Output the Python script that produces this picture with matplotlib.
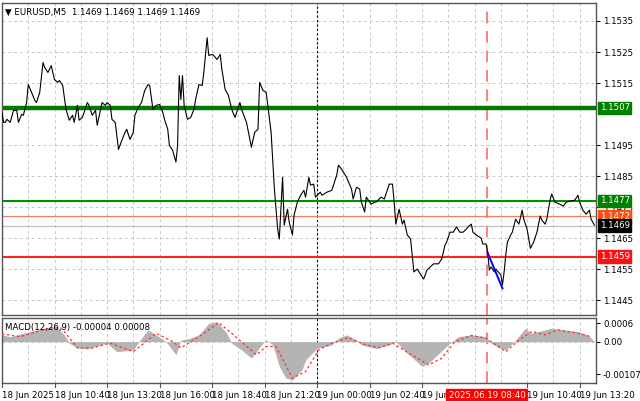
import matplotlib
matplotlib.use("Agg")
import matplotlib.pyplot as plt
import matplotlib.transforms as mtransforms
import numpy as np

# ---- data ----
# (bar index, price in pips above 1.1400)
price_points = [
    (0,105.5),(1,102.3),(2,102.3),(3,103.3),(5,102.3),(7,106.2),(9,106.2),(10,102.3),(12,104.9),(13,104.6),
    (15,108.7),(16,114.5),(18,112.0),(20,109.4),(21,108.7),(23,112.0),(25,121.6),(26,120.0),(28,118.4),(30,120.6),
    (32,116.1),(34,115.2),(35,115.8),(37,114.2),(39,106.5),(41,103.0),(43,104.6),(44,102.3),(46,107.8),(47,103.0),
    (49,103.9),(52,108.7),(53,107.8),(55,104.6),(57,106.2),(58,101.4),(61,108.7),(63,107.8),(64,108.7),(66,107.8),
    (67,103.3),(69,102.3),(71,93.6),(73,96.5),(75,99.1),(76,100.1),(78,96.8),(80,99.1),(81,104.6),(83,107.1),
    (85,108.7),(87,112.6),(89,114.5),(90,114.2),(92,106.5),(94,107.8),(96,108.1),(98,105.5),(99,103.3),(101,100.1),
    (102,94.9),(104,93.3),(106,89.5),(107,94.9),(108,117.4),(109,109.7),(110,117.4),(111,107.8),(113,103.3),(115,103.9),
    (117,106.5),(118,109.7),(120,114.5),(122,114.2),(123,118.4),(125,129.6),(126,123.9),(128,124.2),(129,123.9),(131,122.6),
    (133,124.2),(134,119.4),(136,112.9),(138,111.0),(140,106.5),(142,103.9),(145,108.7),(146,106.5),(149,102.3),(152,94.3),
    (154,99.1),(156,100.1),(157,115.2),(159,112.6),(161,112.0),(162,107.8),(164,99.1),(166,80.8),(168,67.9),(169,64.7),
    (171,84.6),(172,69.2),(174,74.3),(175,70.2),(177,66.0),(178,72.4),(180,76.6),(182,78.8),(184,80.4),(185,78.2),
    (187,84.6),(188,82.1),(190,82.4),(191,78.2),(194,79.8),(195,78.8),(198,79.8),(201,80.4),(204,85.3),(205,88.5),
    (207,87.2),(210,84.6),(213,80.8),(214,77.6),(216,81.4),(218,80.8),(219,76.6),(221,73.4),(222,78.2),(225,75.9),
    (227,76.6),(228,76.6),(231,78.2),(233,77.6),(235,80.8),(236,82.4),(238,82.4),(239,76.6),(240,69.5),(242,74.3),
    (244,69.5),(245,70.8),(247,66.0),(249,64.7),(250,59.5),(251,54.1),(253,55.0),(255,53.4),(257,51.8),(259,54.7),
    (261,55.7),(263,56.7),(266,56.7),(268,58.3),(270,62.8),(271,63.7),(273,66.9),(275,66.9),(277,68.6),(279,66.9),
    (281,66.9),(283,67.9),(284,68.6),(286,69.5),(287,66.9),(289,66.0),(292,65.0),(293,63.1),(295,63.1),(296,60.5),
    (297,54.7),(298,55.7),(300,54.1),(301,55.0),(304,53.1),(305,49.9),(306,54.1),(307,59.5),(308,63.7),(310,66.0),
    (311,66.9),(313,71.1),(315,69.5),(317,74.0),(318,71.1),(320,67.9),(322,61.7),(324,63.7),(326,66.9),(328,72.1),
    (329,70.8),(331,69.5),(332,71.1),(334,77.2),(335,79.2),(337,76.6),(340,75.9),(342,75.3),(344,76.6),(346,76.9),
    (349,77.2),(351,78.8),(352,76.6),(354,74.0),(356,72.7),(358,74.0),(359,71.1),(361,69.2)]
price_base = 1.1400

hist_bars = [0,5,17,27,33,38,41,46,52,58,64,70,80,84,89,94,100,106,109,114,120,126,131,137,140,146,152,159,161,165,169,173,177,183,185,189,192,201,205,210,216,219,228,236,240,246,256,260,266,272,278,286,295,298,303,307,313,319,322,327,335,343,351,357,361]
hist_vals = [22,16,33,45,49,22,-5,-21,-24,-13,-5,-33,-27,5,38,22,0,-43,5,10,22,60,65,27,-5,-27,-54,-5,5,-10,-81,-119,-125,-90,-60,-38,-22,-11,11,22,5,-11,-22,-11,0,-33,-81,-70,-40,-10,16,22,16,-5,-20,-27,5,44,27,33,44,38,33,22,0]
sig_bars = [0,11,29,36,46,55,66,80,94,104,109,120,132,140,155,161,167,177,185,193,201,211,222,230,238,248,260,268,276,286,295,307,315,323,331,339,351,359]
sig_vals = [25,16,45,45,-21,-21,-5,-33,27,0,-21,16,62,27,-43,-16,-16,-119,-98,-27,-5,13,-11,-20,-5,-38,-76,-54,0,20,11,-33,5,33,22,38,27,16]

blue_bars = [296, 305]
blue_prices = [1.14602, 1.14488]

levels = [1.1507, 1.1477, 1.1472, 1.1469, 1.1459]
price_ticks = [1.1535, 1.1525, 1.1515, 1.1495, 1.1485, 1.1475, 1.1465, 1.1455, 1.1445]
time_ticks = [0, 32, 64, 96, 128, 160, 192, 224, 256, 320, 352]
time_labels = ["18 Jun 2025", "18 Jun 10:40", "18 Jun 13:20", "18 Jun 16:00", "18 Jun 18:40",
               "18 Jun 21:20", "19 Jun 00:00", "19 Jun 02:40", "19 Jun 05:20", "19 Jun 10:40", "19 Jun 13:20"]

plt.rcParams['font.family'] = ['DejaVu Sans']
FS = 6.2
fig = plt.figure(figsize=(6.4, 4.01), dpi=100)
W, H = 640, 401
ax = fig.add_axes([2/W, 1-315/H, 594/W, 312/H])
ax2 = fig.add_axes([2/W, 1-383/H, 594/W, 65/H])

pb = [p[0] for p in price_points]
prices = price_base + np.array([p[1] for p in price_points]) / 10000
xmax = 362
for a in (ax, ax2):
    a.set_xlim(0, xmax)
    for s in a.spines.values():
        s.set_color('#555555'); s.set_linewidth(1.0)
    for v in range(16, xmax, 16):
        a.axvline(v, color='#c8c8c8', ls=(0, (3, 3)), lw=0.7, zorder=0)
    a.axvline(192, color='black', ls=(0, (2, 2)), lw=0.8, zorder=1)
    a.axvline(295.5, color='#ff8080', ls=(0, (6, 4)), lw=1.4, zorder=1)
    a.tick_params(axis='x', bottom=False, labelbottom=False)
    a.yaxis.tick_right()
    a.tick_params(axis='y', labelsize=FS, length=3, pad=2, colors='black')

ax.set_ylim(1.14402, 1.15408)
ax.set_yticks(price_ticks)
ax.set_yticklabels([f"{t:.4f}" for t in price_ticks])
for t in price_ticks:
    ax.axhline(t, color='#c8c8c8', ls=(0, (3, 3)), lw=0.7, zorder=0)

ax.axhline(levels[0], color='#007a00', lw=3.2, zorder=2)
ax.axhline(levels[1], color='#009000', lw=1.5, zorder=2)
ax.axhline(levels[2], color='#f08060', lw=0.9, zorder=2)
ax.axhline(levels[3], color='#c0c0c0', lw=0.9, zorder=2)
ax.axhline(levels[4], color='#ff2020', lw=1.5, zorder=2)
ax.plot(pb, prices, color='black', lw=0.8, zorder=3)
ax.plot(blue_bars, blue_prices, color='#0000ff', lw=1.4, zorder=4)

box_cols = ['#008000', '#008000', '#ff5010', 'black', '#ff1010']
ytr = mtransforms.blended_transform_factory(ax.transAxes, ax.transData)
for lv, c in zip(levels, box_cols):
    ax.text(1.006, lv, f"{lv:.4f}", transform=ytr, fontsize=FS, color='white', va='center', ha='left',
            bbox=dict(boxstyle='square,pad=0.2', fc=c, ec=c), clip_on=False, zorder=6)

ax.text(0.005, 0.985, "\u25bc EURUSD,M5  1.1469 1.1469 1.1469 1.1469", transform=ax.transAxes,
        fontsize=FS, va='top', ha='left')

# MACD
ax2.set_ylim(-135, 77)
ax2.set_yticks([60, 0, -107])
ax2.set_yticklabels(["0.0006", "0.00", "-0.00107"])
ax2.axhline(0, color='#c8c8c8', ls=(0, (3, 3)), lw=0.7, zorder=0)
ax2.fill_between(hist_bars, 0, hist_vals, color='#b4b4b4', lw=0, zorder=2)
ax2.plot(sig_bars, sig_vals, color='#ff3030', ls=(0, (2, 2)), lw=0.9, zorder=3)
ax2.text(0.005, 0.93, "MACD(12,26,9) -0.00004 0.00008", transform=ax2.transAxes,
         fontsize=FS, va='top', ha='left')

xtr = mtransforms.blended_transform_factory(ax2.transData, ax2.transAxes)
for b, lab in zip(time_ticks, time_labels):
    ax2.text(b, -0.12, lab, transform=xtr, fontsize=FS, ha='left', va='top', clip_on=False)
    ax2.plot([b, b], [0, -0.06], transform=xtr, color='#555555', lw=0.8, clip_on=False)
ax2.text(295.5, -0.12, "2025.06.19 08:40", transform=xtr, fontsize=FS, ha='center', va='top', color='white',
         bbox=dict(boxstyle='square,pad=0.25', fc='#ff0000', ec='#ff0000'), clip_on=False, zorder=8)

fig.savefig("out.png", dpi=100)
